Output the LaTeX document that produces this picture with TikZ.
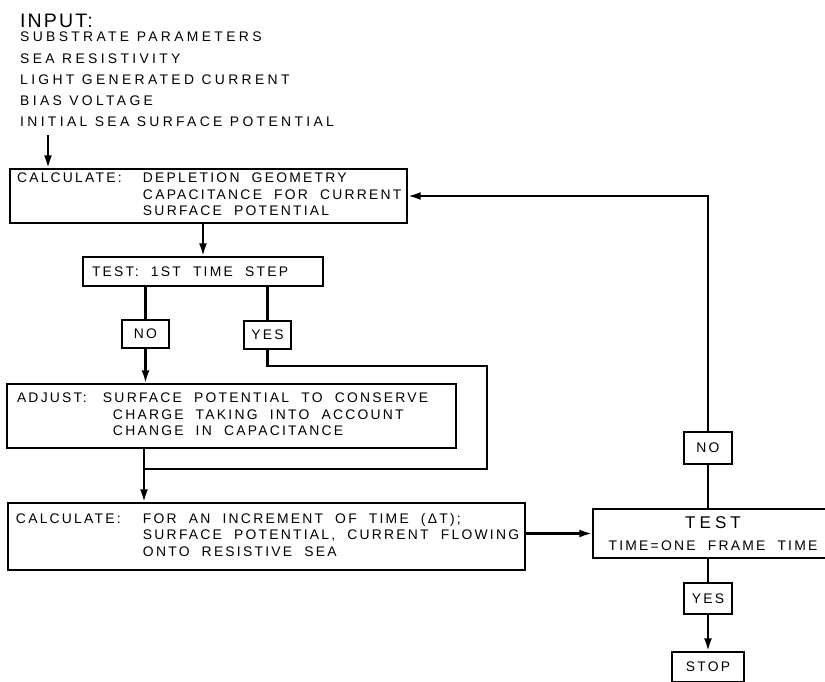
\documentclass[tikz,border=0pt]{standalone}
\usepackage{fontspec}
\setmainfont{Liberation Sans}[LetterSpace=16,WordSpace=2]
\newfontfamily\headfont{Liberation Sans}[LetterSpace=11]
\newfontfamily\listfont{Liberation Sans}[LetterSpace=24]
\newfontfamily\testfont{Liberation Sans}[LetterSpace=24]
\newcommand\listspaces{\spaceskip=7.5pt\relax}
\usetikzlibrary{arrows.meta}

\tikzset{
  box/.style={draw,line width=1.4pt,inner sep=0pt,font=\fontsize{13.9}{16.5}\selectfont},
  procbox/.style={box,align=flush left,inner xsep=7pt},
  tagbox/.style={box,align=center},
  line/.style={line width=2.4pt},
  arrow/.style={line,-{Latex[length=13pt,width=8pt]}},
}

\begin{document}
\begin{tikzpicture}[x=1pt,y=-1pt]
    \useasboundingbox (0,0) rectangle (825,681);

    \node[anchor=north west,inner sep=0pt,font=\headfont\fontsize{19.5}{20}\selectfont] (inhead) at (20,14) {INPUT:};
    \node[anchor=north west,inner sep=0pt,align=flush left,font=\listfont\fontsize{13.9}{21.25}\selectfont\listspaces] (inlist) at (20,32)
        {SUBSTRATE PARAMETERS\\SEA RESISTIVITY\\LIGHT GENERATED CURRENT\\BIAS VOLTAGE\\INITIAL SEA SURFACE POTENTIAL};
    \coordinate (instart) at (48,135);

    \node[procbox,text width=383pt,minimum height=54pt] (calc1) at (208.5,196)
        {\begin{tabular}{@{}p{126pt}@{}l@{}}CALCULATE: & DEPLETION GEOMETRY\\ & CAPACITANCE FOR CURRENT\\ & SURFACE POTENTIAL\end{tabular}};
    \node[procbox,inner xsep=9pt,text width=222pt,minimum height=29pt] (test1) at (203,271.5) {TEST: 1ST TIME STEP};
    \node[tagbox,minimum width=47pt,minimum height=28pt] (no1) at (145.5,334) {NO};
    \node[tagbox,minimum width=47pt,minimum height=28pt] (yes1) at (267.5,335) {YES};
    \node[procbox,inner xsep=10pt,text width=429pt,minimum height=64pt] (adjust) at (231.5,416)
        {\begin{tabular}{@{}p{86pt}@{}l@{}}ADJUST: & SURFACE POTENTIAL TO CONSERVE\\ & \hspace{10pt}CHARGE TAKING INTO ACCOUNT\\ & \hspace{10pt}CHANGE IN CAPACITANCE\end{tabular}};
    \coordinate (yesturn) at (487,366);
    \coordinate (merge) at (144,469);
    \node[procbox,inner xsep=8pt,text width=501pt,minimum height=67pt] (calc2) at (266.5,536.5)
        {\begin{tabular}{@{}p{127pt}@{}l@{}}CALCULATE: & FOR AN INCREMENT OF TIME (ΔT);\\ & SURFACE POTENTIAL, CURRENT FLOWING\\ & ONTO RESISTIVE SEA\end{tabular}};

    \node[tagbox,minimum width=240pt,minimum height=49pt] (test2) at (713,533.5)
        {{\testfont\fontsize{17}{18}\selectfont TEST}\\[6pt]TIME=ONE FRAME TIME};
    \node[tagbox,minimum width=48pt,minimum height=32pt] (no2) at (708,448) {NO};
    \node[tagbox,minimum width=48pt,minimum height=31pt] (yes2) at (708,598.5) {YES};
    \node[tagbox,minimum width=72pt,minimum height=30pt] (stop) at (708,667) {STOP};

    \draw[arrow] (instart) -- (instart |- calc1.north);
    \draw[arrow] (test1.north |- calc1.south) -- (test1.north);
    \draw[line] (no1.north |- test1.south) -- (no1.north);
    \draw[line] (yes1.north |- test1.south) -- (yes1.north);
    \draw[arrow] (no1.south) -- (no1.south |- adjust.north);
    \draw[line] (yes1.south) |- (yesturn) |- (merge);
    \draw[line] (merge |- adjust.south) -- (merge);
    \draw[arrow] (merge) -- (merge |- calc2.north);
    \draw[arrow] (calc2.east |- test2.west) -- (test2.west);
    \draw[line] (yes2.north |- test2.south) -- (yes2.north);
    \draw[arrow] (yes2.south) -- (stop.north);
    \draw[line] (no2.south) -- (no2.south |- test2.north);
    \draw[arrow] (no2.north) |- (calc1.east);

\end{tikzpicture}
\end{document}
